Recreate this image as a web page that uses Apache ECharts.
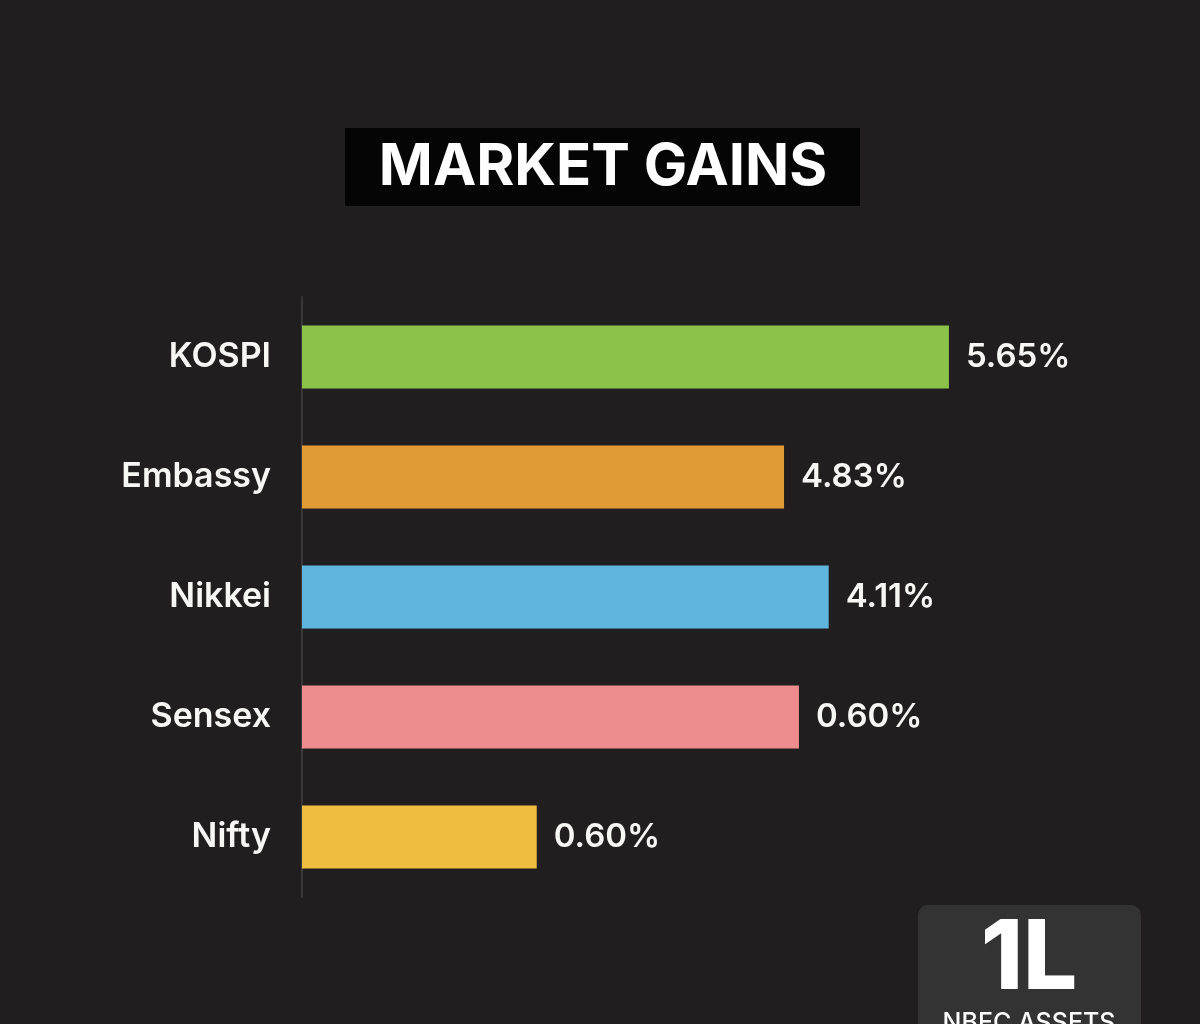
<!DOCTYPE html>
<html>
<head>
<meta charset="utf-8">
<script src="https://cdn.jsdelivr.net/npm/echarts@6/dist/echarts.min.js"></script>
<style>
  html, body { margin: 0; padding: 0; background: #201e1f; }
  #chart { width: 1200px; height: 1024px; }
</style>
</head>
<body>
<div id="chart"></div>
<script>
var categories = ['KOSPI', 'Embassy', 'Nikkei', 'Sensex', 'Nifty'];
// bar lengths as drawn in the picture (same % scale as KOSPI)
var barValues = [5.65, 4.21, 4.60, 4.34, 2.05];
// the printed labels
var valueLabels = ['5.65%', '4.83%', '4.11%', '0.60%', '0.60%'];
var barColors = ['#8bc34a', '#e09b35', '#5fb5de', '#ee8d8d', '#efbd40'];

var myChart = echarts.init(document.getElementById('chart'));
var font = 'Inter, "Open Sans", sans-serif';

myChart.setOption({
    backgroundColor: '#201e1f',
    animation: false,
    grid: { left: 302, right: 211, top: 297, height: 600 },
    xAxis: {
        type: 'value',
        min: 0,
        max: 6,
        show: false
    },
    yAxis: {
        type: 'category',
        data: categories,
        inverse: true,
        axisTick: { show: false },
        axisLine: { lineStyle: { color: '#3a3838', width: 2 } },
        axisLabel: {
            margin: 31,
            color: '#f7f7f5',
            fontSize: 34,
            fontWeight: 600,
            fontFamily: font
        }
    },
    series: [{
        type: 'bar',
        barWidth: 63,
        data: barValues.map(function (v, i) {
            return { value: v, itemStyle: { color: barColors[i] } };
        }),
        label: {
            show: true,
            position: 'right',
            distance: 17,
            color: '#f7f7f5',
            fontSize: 33,
            fontWeight: 600,
            fontFamily: font,
            formatter: function (p) { return valueLabels[p.dataIndex]; }
        }
    }],
    graphic: [
        {
            type: 'rect',
            shape: { x: 345, y: 128, width: 515, height: 78 },
            style: { fill: '#050505' }
        },
        {
            type: 'text',
            x: 603, y: 168,
            style: {
                text: 'MARKET GAINS',
                fill: '#ffffff',
                font: '700 58px ' + font,
                align: 'center',
                verticalAlign: 'middle'
            }
        },
        {
            type: 'rect',
            shape: { x: 918, y: 905, width: 223, height: 140, r: 10 },
            style: { fill: '#333333' }
        },
        {
            type: 'text',
            x: 1029, y: 960,
            style: {
                text: '1L',
                fill: '#ffffff',
                font: '800 96px ' + font,
                align: 'center',
                verticalAlign: 'middle'
            }
        },
        {
            type: 'text',
            x: 1029, y: 1023,
            style: {
                text: 'NBEC ASSETS',
                fill: '#ffffff',
                font: '500 25px ' + font,
                align: 'center',
                verticalAlign: 'middle'
            }
        }
    ]
});
</script>
</body>
</html>
